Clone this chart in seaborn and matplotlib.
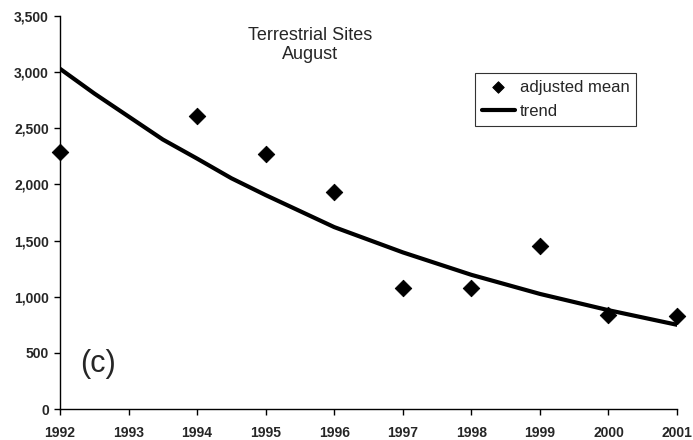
import matplotlib
matplotlib.use("Agg")
import matplotlib.pyplot as plt
import matplotlib.ticker as mticker
import seaborn as sns
import pandas as pd

# Data
years = [1992, 1994, 1995, 1996, 1997, 1998, 1999, 2000, 2001]
adjusted_mean = [2285, 2605, 2275, 1930, 1080, 1080, 1455, 840, 825]

trend_years = [1992, 1992.5, 1993, 1993.5, 1994, 1994.5, 1995, 1996, 1997, 1998, 1999, 2000, 2001]
trend_values = [3030, 2810, 2605, 2400, 2230, 2055, 1905, 1620, 1395, 1195, 1025, 880, 750]

x_ticks = list(range(1992, 2002))
y_ticks = [0, 500, 1000, 1500, 2000, 2500, 3000, 3500]

sns.set_theme(style="white")
plt.rcParams['font.family'] = ['Liberation Sans', 'DejaVu Sans']

fig = plt.figure(figsize=(6.93, 4.40), dpi=100)
ax = fig.add_axes([60/693, 1-409/440, (677-60)/693, (409-16)/440])

df_pts = pd.DataFrame({"year": years, "value": adjusted_mean})
df_tr = pd.DataFrame({"year": trend_years, "value": trend_values})

sns.lineplot(data=df_tr, x="year", y="value", ax=ax, color="black", linewidth=3,
             label="trend", zorder=2)
sns.scatterplot(data=df_pts, x="year", y="value", ax=ax, marker="D", color="black",
                s=70, edgecolor="black", label="adjusted mean", zorder=3, clip_on=False)

ax.set_xlim(1992, 2001)
ax.set_ylim(0, 3500)
ax.set_xticks(x_ticks)
ax.set_yticks(y_ticks)
ax.yaxis.set_major_formatter(mticker.FuncFormatter(lambda v, p: f"{int(v):,}"))
ax.set_xlabel("")
ax.set_ylabel("")
for lab in ax.get_xticklabels() + ax.get_yticklabels():
    lab.set_fontweight("bold")
    lab.set_fontsize(10)
ax.tick_params(axis="both", direction="out", length=4, width=1, color="black",
               bottom=True, left=True)
ax.tick_params(axis="x", pad=8)
ax.tick_params(axis="y", pad=4)

for s in ["top", "right"]:
    ax.spines[s].set_visible(False)
for s in ["left", "bottom"]:
    ax.spines[s].set_color("black")
    ax.spines[s].set_linewidth(1)

ax.text(0.405, 0.925, "Terrestrial Sites\nAugust", transform=ax.transAxes,
        ha="center", va="center", fontsize=13, linespacing=1.15)
ax.text(0.032, 0.115, "(c)", transform=ax.transAxes, ha="left", va="center",
        fontsize=22)

handles, labels = ax.get_legend_handles_labels()
order = [labels.index("adjusted mean"), labels.index("trend")]
leg = ax.legend([handles[i] for i in order], [labels[i] for i in order],
                loc="upper left", bbox_to_anchor=((475-60)/617, 1-(73-16)/393),
                frameon=True, fancybox=False, edgecolor="black", fontsize=12,
                handlelength=2.0, handletextpad=0.3, borderpad=0.4,
                labelspacing=0.55, borderaxespad=0, markerscale=0.7)
leg.get_frame().set_linewidth(0.8)

fig.savefig("out.png", dpi=100)
